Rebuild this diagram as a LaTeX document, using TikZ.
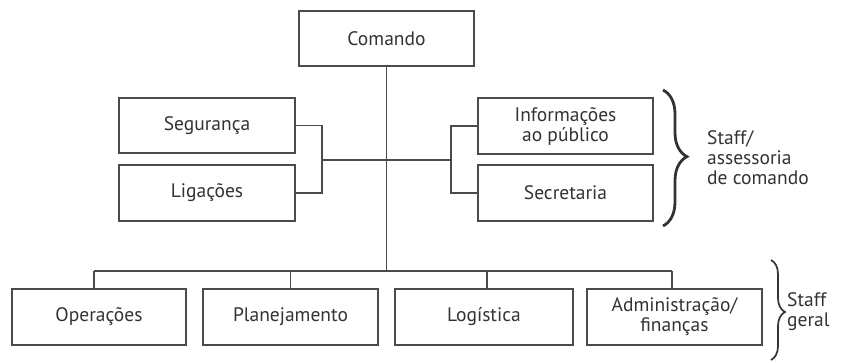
\documentclass[tikz,border=0pt]{standalone}
\usepackage{fontspec}
\setmainfont{PT Sans}
\usetikzlibrary{decorations.pathreplacing}
\definecolor{ink}{HTML}{333333}
\definecolor{edge}{HTML}{4A4A4A}
\begin{document}
\begin{tikzpicture}[x=1pt,y=-1pt,
  box/.style={draw=edge,line width=1.3pt,fill=white,text=ink,align=center,
    inner sep=0pt,minimum width=175pt,minimum height=55pt,
    font=\fontsize{19.5}{20}\selectfont},
  link/.style={draw=edge,line width=1.2pt},
  lbl/.style={text=ink,align=left,anchor=west,inner sep=0pt,
    font=\fontsize{19.5}{20}\selectfont}]
\useasboundingbox (0,0) rectangle (844,363);
\node[box] (cmd) at (386.5,38.5) {Comando};
\node[box,minimum width=176pt] (seg) at (207,125.5) {Segurança};
\node[box,minimum width=176pt,minimum height=56pt] (lig) at (207,193) {Ligações};
\node[box,minimum height=56pt] (inf) at (565.5,126) {Informações\\ao público};
\node[box,minimum height=56pt] (sec) at (565.5,193) {Secretaria};
\node[box,minimum width=174pt,minimum height=56pt] (ope) at (99,317) {Operações};
\node[box,minimum width=175pt,minimum height=56pt] (pla) at (290.5,317) {Planejamento};
\node[box,minimum width=178pt,minimum height=56pt] (log) at (484,317) {Logística};
\node[box,minimum width=175pt,minimum height=56pt] (adm) at (674.5,317) {Administração/\\finanças};
\coordinate (bus) at (387,271);
\coordinate (lj) at (322,160);
\coordinate (rj) at (451,160);
\coordinate (sd) at (94,271);
\coordinate (ad) at (672,271);
% trunk
\draw[link] (cmd.south) -- (cmd.south |- bus);
\draw[link] (lj) -- (rj);
% left group
\draw[link] (seg.east) -| (lj) |- (lig.east);
% right group
\draw[link] (inf.west) -| (rj) |- (sec.west);
% bottom bus
\draw[link] (sd) -- (ad);
\draw[link] (sd) -- (sd |- ope.north);
\draw[link] (pla.north) -- (pla.north |- bus);
\draw[link] (log.north -| 487,0) -- (487,271);
\draw[link] (ad) -- (ad |- adm.north);
% braces
\draw[ink,line width=2.8pt,decorate,decoration={brace,amplitude=24pt,aspect=0.49}]
  (663,90) -- (663,226);
\node[lbl] (st1) at (707,158) {Staff/\\assessoria\\de comando};
\draw[ink,line width=1.7pt,decorate,decoration={brace,amplitude=14pt,aspect=0.52}]
  (771,260) -- (771,360);
\node[lbl] (st2) at (787,312) {Staff\\geral};
\end{tikzpicture}
\end{document}
